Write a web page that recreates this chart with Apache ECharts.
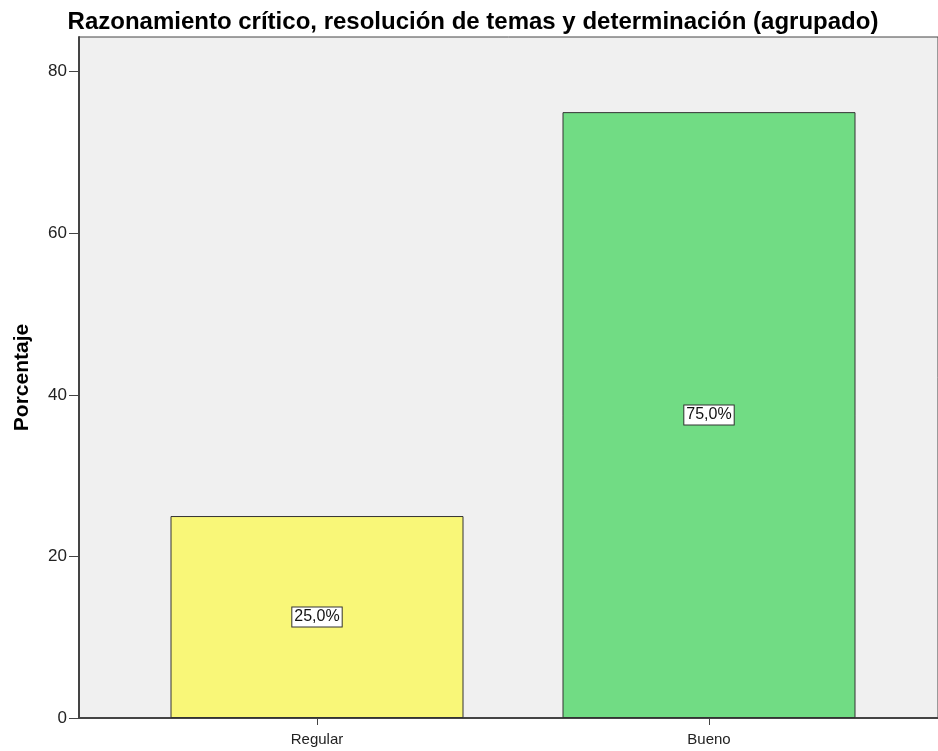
<!DOCTYPE html>
<html>
<head>
<meta charset="utf-8">
<script src="https://cdn.jsdelivr.net/npm/echarts@6/dist/echarts.min.js"></script>
<style>
html,body{margin:0;padding:0;background:#fff;}
#main{width:938px;height:751px;}
</style>
</head>
<body>
<div id="main"></div>
<script>
var categories = ['Regular', 'Bueno'];
var percentages = [25, 75];
var barColors = ['#f9f778', '#71dc84'];
var yTicks = [0, 20, 40, 60, 80];

var myChart = echarts.init(document.getElementById('main'));
var yMax = 84.3;
var fuente = 'Liberation Sans, Arial, sans-serif';

var option = {
    animation: false,
    title: {
        text: 'Razonamiento crítico, resolución de temas y determinación (agrupado)',
        left: 468,
        top: 5,
        textAlign: 'center',
        textStyle: {
            fontFamily: fuente,
            fontSize: 24,
            fontWeight: 'bold',
            color: '#000'
        }
    },
    grid: [{
        // fondo y ejes
        left: 79, right: -2, top: 37, bottom: 33,
        show: true,
        backgroundColor: '#f0f0f0',
        borderColor: '#444',
        borderWidth: 1
    }, {
        // barras
        left: 121, right: 33, top: 37, bottom: 33
    }],
    xAxis: [{
        gridIndex: 0,
        type: 'value',
        min: 0, max: 1,
        axisLine: {show: true, lineStyle: {color: '#444', width: 2}},
        axisTick: {show: false},
        axisLabel: {show: false},
        splitLine: {show: false}
    }, {
        gridIndex: 1,
        type: 'category',
        data: categories,
        axisLine: {show: false},
        axisTick: {show: true, alignWithLabel: true, length: 7, lineStyle: {color: '#444', width: 1}},
        axisLabel: {
            margin: 14,
            fontFamily: fuente,
            fontSize: 15,
            color: '#222'
        }
    }],
    yAxis: [{
        gridIndex: 0,
        type: 'value',
        min: 0,
        max: yMax,
        interval: 20,
        name: 'Porcentaje',
        nameLocation: 'middle',
        nameGap: 46,
        nameTextStyle: {
            fontFamily: fuente,
            fontSize: 21,
            fontWeight: 'bold',
            color: '#000'
        },
        axisLine: {show: true, lineStyle: {color: '#444', width: 2}},
        axisTick: {show: true, length: 10, customValues: yTicks, lineStyle: {color: '#444', width: 1}},
        axisLabel: {
            margin: 12,
            customValues: yTicks,
            fontFamily: fuente,
            fontSize: 17,
            color: '#222'
        },
        splitLine: {show: false}
    }, {
        gridIndex: 1,
        type: 'value',
        min: 0,
        max: yMax,
        show: false
    }],
    series: [{
        type: 'bar',
        xAxisIndex: 1,
        yAxisIndex: 1,
        barWidth: 293,
        data: percentages.map(function (v, i) {
            return {value: v, itemStyle: {color: barColors[i]}};
        }),
        itemStyle: {borderColor: '#333', borderWidth: 1},
        label: {
            show: true,
            position: 'inside',
            formatter: function (p) {
                return p.value.toFixed(1).replace('.', ',') + '%';
            },
            fontFamily: fuente,
            fontSize: 16,
            color: '#111',
            backgroundColor: '#fff',
            borderColor: '#333',
            borderWidth: 1,
            padding: [2, 2, 1, 2]
        }
    }]
};
myChart.setOption(option);
</script>
</body>
</html>
